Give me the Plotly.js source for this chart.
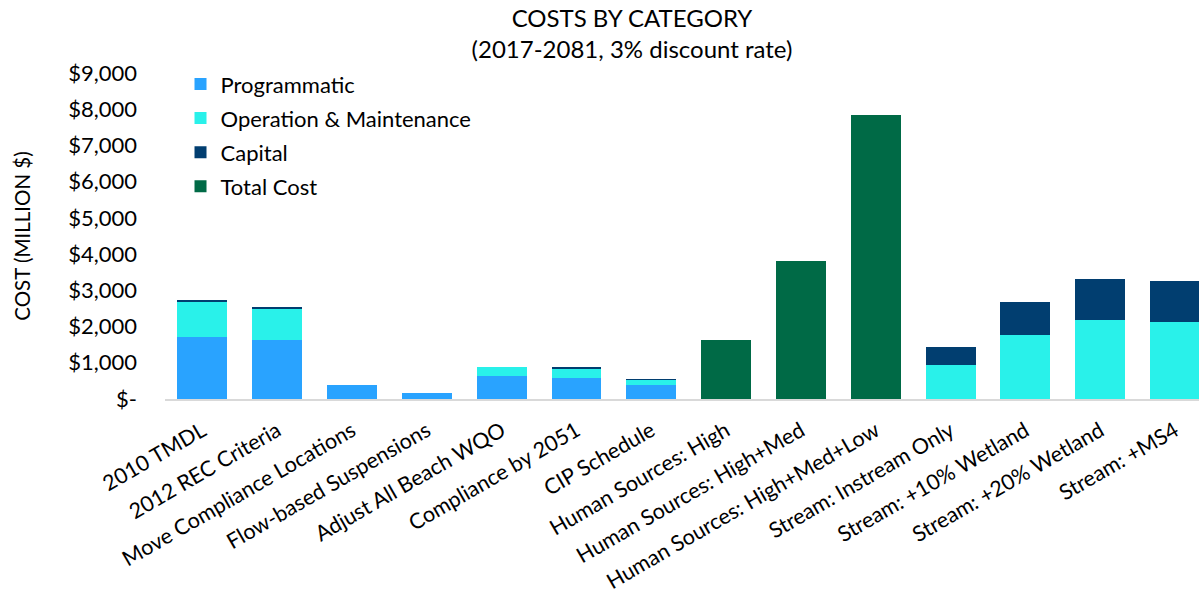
<!DOCTYPE html>
<html>
<head>
<meta charset="utf-8">
<script src="https://cdn.plot.ly/plotly-3.0.1.min.js"></script>
<style>html,body{margin:0;padding:0;background:#fff;}#chart{width:1199px;height:594px;}</style>
</head>
<body>
<div id="chart"></div>
<script>
const categories = [
  "2010 TMDL", "2012 REC Criteria", "Move Compliance Locations", "Flow-based Suspensions",
  "Adjust All Beach WQO", "Compliance by 2051", "CIP Schedule", "Human Sources: High",
  "Human Sources: High+Med", "Human Sources: High+Med+Low", "Stream: Instream Only",
  "Stream: +10% Wetland", "Stream: +20% Wetland", "Stream: +MS4"
];
const programmatic = [1700, 1620, 400, 170, 625, 570, 375, null, null, null, null, null, null, null];
const operationMaintenance = [980, 866, null, null, 250, 267, 140, null, null, null, 950, 1770, 2190, 2135];
const capital = [55, 50, null, null, 20, 40, 50, null, null, null, 490, 900, 1133, 1114];
const totalCost = [null, null, null, null, null, null, null, 1640, 3800, 7830, null, null, null, null];
const yTickVals = [0, 1000, 2000, 3000, 4000, 5000, 6000, 7000, 8000, 9000];
const yTickText = ["$-", "$1,000", "$2,000", "$3,000", "$4,000", "$5,000", "$6,000", "$7,000", "$8,000", "$9,000"];

const FONT = "Lato, 'Open Sans', sans-serif";
const mk = (name, y, color) => ({
  type: "bar", name: name, x: categories, y: y, legendgroup: name,
  marker: {color: color, line: {width: 0}},
  hoverinfo: "x+y+name"
});
const data = [
  mk("Programmatic", programmatic, "#29a3ff"),
  mk("Operation & Maintenance", operationMaintenance, "#29f1ea"),
  mk("Capital", capital, "#013e70"),
  mk("Total Cost", totalCost, "#006a46")
];
const layout = {
  width: 1199, height: 594,
  margin: {l: 165, r: 0, t: 73, b: 195, autoexpand: false},
  paper_bgcolor: "#fff", plot_bgcolor: "#fff",
  barmode: "stack", bargap: 0.333,
  font: {family: FONT, color: "#000"},
  title: {
    text: "COSTS BY CATEGORY<br>(2017-2081, 3% discount rate)",
    font: {family: FONT, size: 24, color: "#000"},
    x: 632 / 1199, xanchor: "center", xref: "container",
    yref: "container", y: 1 - 27 / 594, yanchor: "middle"
  },
  xaxis: {
    type: "category", range: [-0.5, 13.32], automargin: false,
    tickangle: -30, tickfont: {family: FONT, size: 21.5, color: "#000"}, ticklabelstandoff: 9,
    showline: true, linecolor: "#d9d9d9", linewidth: 2,
    showgrid: false, ticks: "", zeroline: false
  },
  yaxis: {
    range: [0, 9000], tickvals: yTickVals, ticktext: yTickText, automargin: false,
    tickfont: {family: FONT, size: 22, color: "#000"}, ticklabelstandoff: 27,
    showgrid: false, showline: false, zeroline: false, ticks: "",
    title: {text: "COST (MILLION $)", font: {family: FONT, size: 20.5, color: "#000"}, standoff: 32}
  },
  legend: {
    x: 0.015, y: 1.03, xanchor: "left", yanchor: "top", tracegroupgap: 2.5,
    traceorder: "grouped", font: {family: FONT, size: 22, color: "#000"},
    bgcolor: "rgba(0,0,0,0)"
  },
  showlegend: true
};
Plotly.newPlot("chart", data, layout, {displayModeBar: false, staticPlot: true});
</script>
</body>
</html>
